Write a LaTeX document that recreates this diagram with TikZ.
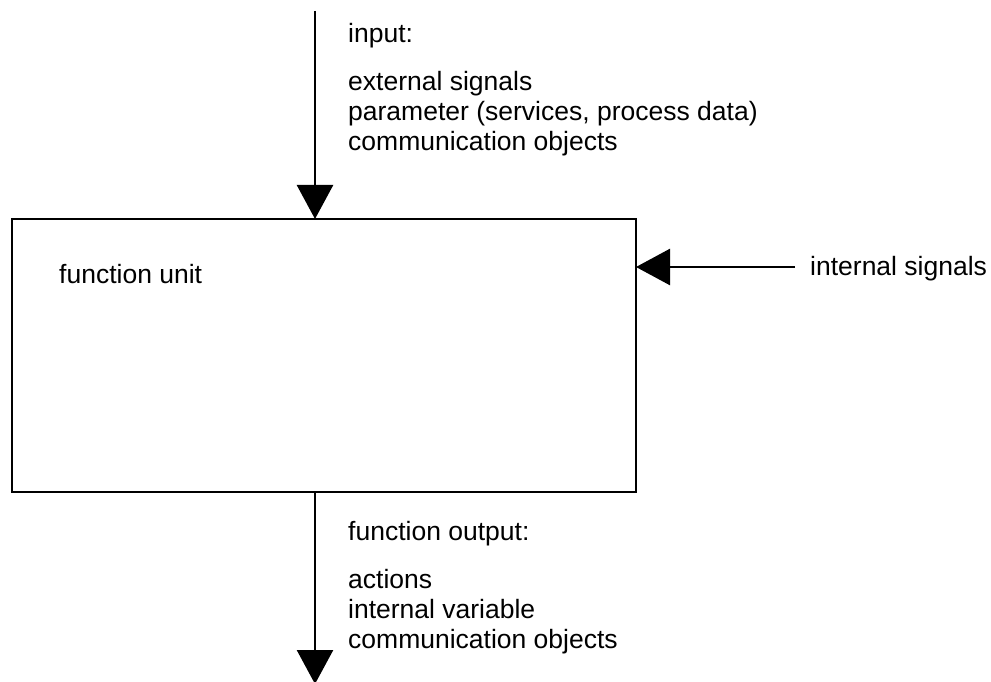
\documentclass[tikz,border=0pt]{standalone}
\usepackage{fontspec}
\setmainfont{Liberation Sans}
\usetikzlibrary{arrows.meta}
\begin{document}
\begin{tikzpicture}[x=1pt,y=-1pt,
  lbl/.style={anchor=base west,inner sep=0pt,font=\fontsize{26.5}{30}\selectfont},
  conn/.style={line width=2.6pt,-{Triangle[length=34pt,width=36pt]}},
  unitbox/.style={draw,line width=2.6pt,rectangle,inner sep=0pt,outer sep=0pt,minimum width=624pt,minimum height=273pt}]
\useasboundingbox (0,0) rectangle (991,682);
\node[unitbox] (box) at (324,355.5) {};
\coordinate (topstart) at (315,11);
\coordinate (topend) at (315,219);
\coordinate (botstart) at (315,492);
\coordinate (botend) at (315,684);
\coordinate (rstart) at (795,267);
\coordinate (rend) at (636,267);
\draw[conn] (topstart) -- (topend);
\draw[conn] (botstart) -- (botend);
\draw[conn] (rstart) -- (rend);
\node[lbl] (in) at (348,43) {input:};
\node[lbl] (in1) at (348,91) {external signals};
\node[lbl] (in2) at (348,121) {parameter (services, process data)};
\node[lbl] (in3) at (348,150) {communication objects};
\node[lbl] (fu) at (59,283) {function unit};
\node[lbl] (is) at (810,275) {internal signals};
\node[lbl] (out) at (348,540) {function output:};
\node[lbl] (out1) at (348,588) {actions};
\node[lbl] (out2) at (348,618) {internal variable};
\node[lbl] (out3) at (348,648) {communication objects};
\end{tikzpicture}
\end{document}
